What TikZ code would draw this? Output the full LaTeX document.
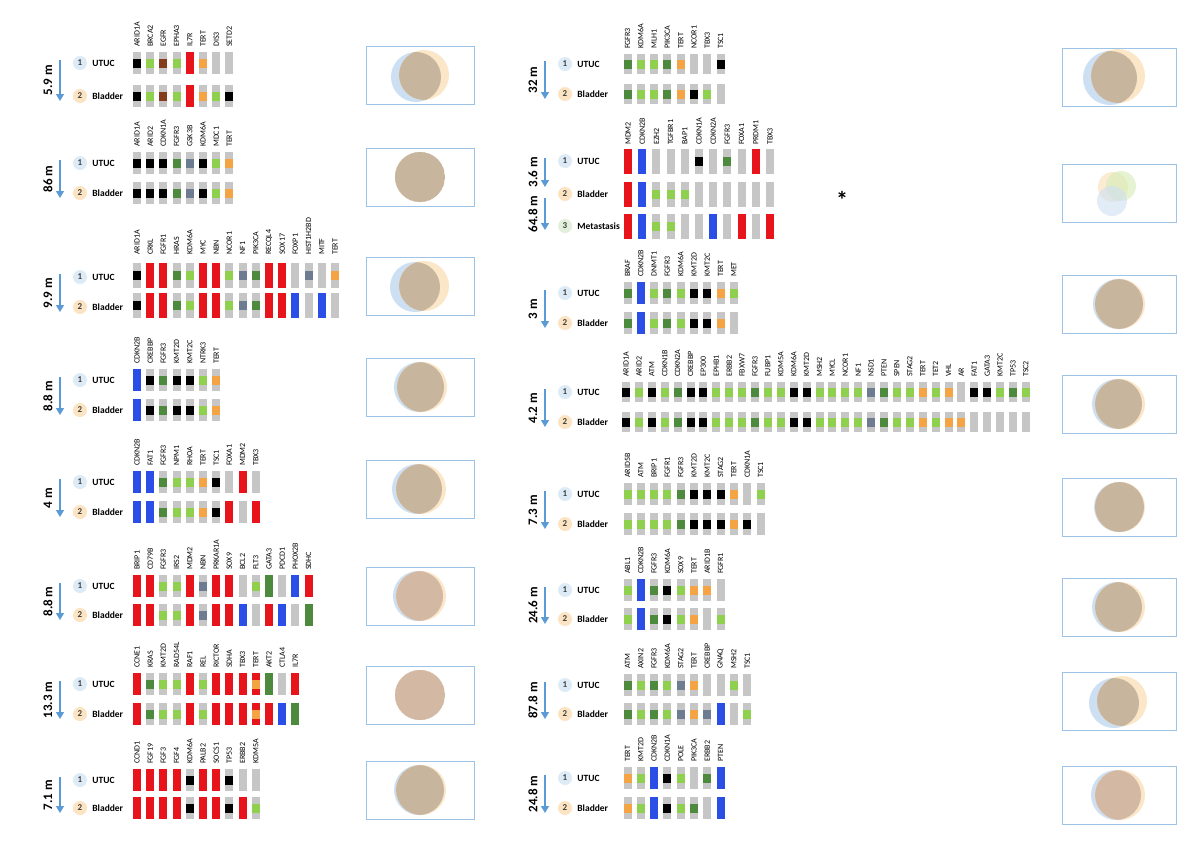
\documentclass[tikz,border=0pt]{standalone}
\usepackage{fontspec}
\setmainfont{Carlito}
\usetikzlibrary{arrows.meta,positioning}

\definecolor{mutblack}{HTML}{000000}
\definecolor{mutgreen}{HTML}{8FD14F}
\definecolor{mutdark}{HTML}{4E8A3E}
\definecolor{mutbrown}{HTML}{843C1C}
\definecolor{mutorange}{HTML}{F5A445}
\definecolor{mutslate}{HTML}{6E7C92}
\definecolor{mutred}{HTML}{E8141C}
\definecolor{mutblue}{HTML}{2B4EE6}
\definecolor{barbg}{HTML}{C6C6C6}
\definecolor{arrowblue}{HTML}{5B9BD5}
\definecolor{badgeblue}{HTML}{DDEBF7}
\definecolor{badgeorange}{HTML}{FCE4C2}
\definecolor{badgegreen}{HTML}{E2EFDA}
\definecolor{boxblue}{HTML}{9DC3E6}
\definecolor{vennblue}{HTML}{CDE0F3}
\definecolor{vennyellow}{HTML}{FBE7C8}
\definecolor{venngreen}{HTML}{D4ECB4}
\definecolor{venntan}{HTML}{C8B59D}
\definecolor{vennpink}{HTML}{D3B8A4}

\newcommand\cellh{22pt}

% time between two samples
\newcommand\interval[5]{%
  \coordinate (#1a) at (#2,#3);
  \coordinate (#1b) at (#2,#4);
  \draw[timearrow] (#1a) -- (#1b);
  \node[timelabel] (#1l) at ({#2-12},{(#3+#4)/2}) {#5};}

\newcommand\sample[6]{%
  \node[badge, fill=#5] (#1) at (#2,#3) {#4};
  \node[sample, right=5pt of #1] (#1t) {#6};}

\newcommand\genelabels[5]{%
  \foreach \g [count=\i] in {#5}
    \node[gene] (#1l\i) at ({#2+(\i-1)*#4},#3) {\g};}

\newcommand\generow[5]{%
  \foreach \c [count=\i] in {#5} {
    \node[bar] (#1c\i) at ({#2+(\i-1)*#4},#3) {};
    \node[mut\c] (#1m\i) at (#1c\i) {};
  }}

\newcommand\venn[8]{%
  \node[#8] (#1) at (#2,#3) {};
  \fill[vennblue] ([shift={(#5)}]#1.center) circle[radius=#4];
  \fill[vennyellow] ([shift={(#6)}]#1.center) circle[radius=#4];
  \begin{scope}
    \clip ([shift={(#5)}]#1.center) circle[radius=#4];
    \fill[#7] ([shift={(#6)}]#1.center) circle[radius=#4];
  \end{scope}}

\begin{document}
\begin{tikzpicture}[x=1pt, y=-1pt,
    timearrow/.style={draw=arrowblue, line width=1.3pt, -{Triangle[length=7pt,width=8pt]}},
    timelabel/.style={rotate=90, inner sep=0pt, font=\bfseries\fontsize{13}{13}\selectfont},
    badge/.style={circle, minimum size=14pt, inner sep=0pt, text=black!75,
                  font=\bfseries\fontsize{9}{9}\selectfont},
    sample/.style={inner sep=0pt, font=\bfseries\fontsize{9.5}{10}\selectfont},
    gene/.style={rotate=90, anchor=west, inner sep=0pt, font=\fontsize{8}{8}\selectfont},
    bar/.style={fill=barbg, minimum width=8pt, minimum height=\cellh, inner sep=0pt, outer sep=0pt},
    sq/.style={fill=#1, minimum width=8pt, minimum height=9pt, inner sep=0pt, outer sep=0pt},
    full/.style={fill=#1, minimum width=8pt, minimum height=\cellh, inner sep=0pt, outer sep=0pt},
    mutk/.style={sq=mutblack}, mutg/.style={sq=mutgreen}, mutd/.style={sq=mutdark},
    mutn/.style={sq=mutbrown}, muto/.style={sq=mutorange}, muts/.style={sq=mutslate},
    mutR/.style={full=mutred}, mutB/.style={full=mutblue}, mutD/.style={full=mutdark},
    mutT/.style={full=mutred, path picture={\fill[mutorange]
        ([yshift=-4.5pt]path picture bounding box.west) rectangle
        ([yshift=4.5pt]path picture bounding box.east);}},
    mute/.style={inner sep=0pt, outer sep=0pt},
    vennbox/.style={draw=boxblue, line width=0.6pt, minimum width=108pt, minimum height=58pt, inner sep=0pt},
    vennboxr/.style={vennbox, minimum width=114pt}]
  \useasboundingbox[fill=white] (0,0) rectangle (1200,844);

  % left column
  \interval{t1}{60}{60}{101}{5.9 m}
  \sample{s1a}{80}{63}{1}{badgeblue}{UTUC}
  \sample{s1b}{80}{96}{2}{badgeorange}{Bladder}
  \genelabels{g1}{137}{47}{13.2}{ARID1A,BRCA2,EGFR,EPHA3,IL7R,TERT,DIS3,SETD2}
  \generow{r1a}{137}{63}{13.2}{k,g,n,g,R,o,e,e}
  \generow{r1b}{137}{96}{13.2}{k,g,n,g,R,o,g,k}
  \venn{v1}{420}{75}{25}{-4,2}{4,0}{venntan}{vennbox}

  \interval{t2}{60}{160}{198}{86 m}
  \sample{s2a}{80}{163}{1}{badgeblue}{UTUC}
  \sample{s2b}{80}{193}{2}{badgeorange}{Bladder}
  \genelabels{g2}{137}{147}{13.2}{ARID1A,ARID2,CDKN1A,FGFR3,GSK3B,KDM6A,MDC1,TERT}
  \generow{r2a}{137}{163}{13.2}{k,k,k,d,s,k,g,o}
  \generow{r2b}{137}{193}{13.2}{k,k,k,d,s,k,g,o}
  \venn{v2}{420}{177}{25}{0,0}{0,0}{venntan}{vennbox}

  \begin{scope}
  \renewcommand\cellh{25pt}
  \interval{t3}{60}{274}{312}{9.9 m}
  \sample{s3a}{80}{277}{1}{badgeblue}{UTUC}
  \sample{s3b}{80}{307}{2}{badgeorange}{Bladder}
  \genelabels{g3}{137}{255}{13.2}{ARID1A,CRKL,FGFR1,HRAS,KDM6A,MYC,NBN,NCOR1,NF1,PIK3CA,RECQL4,SOX17,FOXP1,HIST1H2BD,MITF,TERT}
  \generow{r3a}{137}{275}{13.2}{k,R,R,d,g,R,R,g,s,d,R,R,e,s,e,o}
  \generow{r3b}{137}{305}{13.2}{k,R,R,d,g,R,R,g,s,d,R,R,B,e,B,e}
  \end{scope}
  \venn{v3}{420}{286}{25}{-5,1}{4,0}{venntan}{vennbox}

  \interval{t4}{60}{377}{415}{8.8 m}
  \sample{s4a}{80}{380}{1}{badgeblue}{UTUC}
  \sample{s4b}{80}{410}{2}{badgeorange}{Bladder}
  \genelabels{g4}{137}{364}{13.2}{CDKN2B,CREBBP,FGFR3,KMT2D,KMT2C,NTRK3,TERT}
  \generow{r4a}{137}{380}{13.2}{B,k,d,k,k,g,o}
  \generow{r4b}{137}{410}{13.2}{B,k,d,k,k,g,o}
  \venn{v4}{420}{387}{25}{-1,0}{2,0}{venntan}{vennbox}

  \interval{t5}{60}{479}{517}{4 m}
  \sample{s5a}{80}{482}{1}{badgeblue}{UTUC}
  \sample{s5b}{80}{512}{2}{badgeorange}{Bladder}
  \genelabels{g5}{137}{466}{13.2}{CDKN2B,FAT1,FGFR3,NPM1,RHOA,TERT,TSC1,FOXA1,MDM2,TBX3}
  \generow{r5a}{137}{482}{13.2}{B,B,d,g,g,o,k,e,R,e}
  \generow{r5b}{137}{512}{13.2}{B,B,d,g,g,o,k,R,e,R}
  \venn{v5}{420}{489}{25}{-3,0}{1,0}{venntan}{vennbox}

  \interval{t6}{60}{583}{620}{8.8 m}
  \sample{s6a}{80}{586}{1}{badgeblue}{UTUC}
  \sample{s6b}{80}{615}{2}{badgeorange}{Bladder}
  \genelabels{g6}{137}{570}{13.2}{BRIP1,CD79B,FGFR3,IRS2,MDM2,NBN,PRKAR1A,SOX9,BCL2,FLT3,GATA3,PDCD1,PHOX2B,SDHC}
  \generow{r6a}{137}{586}{13.2}{R,R,g,g,R,s,R,R,e,g,D,e,B,R}
  \generow{r6b}{137}{615}{13.2}{R,R,g,g,R,s,R,R,B,e,R,B,e,D}
  \venn{v6}{420}{596}{25}{-2,0}{1,0}{vennpink}{vennbox}

  \interval{t7}{60}{681}{719}{13.3 m}
  \sample{s7a}{80}{684}{1}{badgeblue}{UTUC}
  \sample{s7b}{80}{714}{2}{badgeorange}{Bladder}
  \genelabels{g7}{137}{668}{13.2}{CCNE1,KRAS,KMT2D,RAD54L,RAF1,REL,RICTOR,SDHA,TBX3,TERT,AKT2,CTLA4,IL7R}
  \generow{r7a}{137}{684}{13.2}{R,d,g,g,R,g,R,R,R,T,D,e,R}
  \generow{r7b}{137}{714}{13.2}{R,d,g,g,R,g,R,R,R,T,R,B,D}
  \venn{v7}{420}{695}{25}{0,0}{0,0}{vennpink}{vennbox}

  \interval{t8}{60}{777}{813}{7.1 m}
  \sample{s8a}{80}{780}{1}{badgeblue}{UTUC}
  \sample{s8b}{80}{808}{2}{badgeorange}{Bladder}
  \genelabels{g8}{137}{764}{13.2}{CCND1,FGF19,FGF3,FGF4,KDM6A,PALB2,SOCS1,TP53,ERBB2,KDM5A}
  \generow{r8a}{137}{780}{13.2}{R,R,R,R,k,R,R,k,e,e}
  \generow{r8b}{137}{808}{13.2}{R,R,R,R,k,R,R,k,R,g}
  \venn{v8}{420}{790}{25}{-1,0}{1,0}{venntan}{vennbox}

  % right column
  \begin{scope}
  \renewcommand\cellh{20pt}
  \interval{t9}{545}{61}{99}{32 m}
  \sample{s9a}{565}{64}{1}{badgeblue}{UTUC}
  \sample{s9b}{565}{94}{2}{badgeorange}{Bladder}
  \genelabels{g9}{627.5}{49}{13.3}{FGFR3,KDM6A,MLH1,PIK3CA,TERT,NCOR1,TBX3,TSC1}
  \generow{r9a}{627.5}{64}{13.3}{d,g,g,d,o,e,e,k}
  \generow{r9b}{627.5}{94}{13.3}{d,g,g,d,o,k,g,e}
  \end{scope}
  \venn{v9}{1119}{77}{27}{-9,1}{-1,-1}{venntan}{vennboxr}

  \begin{scope}
  \renewcommand\cellh{25pt}
  \interval{t10}{545}{158}{187}{3.6 m}
  \interval{t11}{545}{198}{230}{64.8 m}
  \sample{s10a}{565}{161}{1}{badgeblue}{UTUC}
  \sample{s10b}{565}{194}{2}{badgeorange}{Bladder}
  \sample{s10c}{565}{226}{3}{badgegreen}{Metastasis}
  \genelabels{g10}{628}{145}{14.2}{MDM2,CDKN2B,EZH2,TGFBR1,BAP1,CDKN1A,CDKN2A,FGFR3,FOXA1,PRDM1,TBX3}
  \generow{r10a}{628}{161}{14.2}{R,B,e,e,e,k,e,d,e,R,e}
  \generow{r10b}{628}{194}{14.2}{R,B,g,g,g,e,e,e,e,e,e}
  \generow{r10c}{628}{226}{14.2}{R,B,g,g,e,e,B,e,R,e,R}
  \end{scope}
  \node[vennboxr] (v10) at (1119,193) {};
  \fill[vennyellow, fill opacity=0.8] ([shift={(-6,-6)}]v10.center) circle[radius=15];
  \fill[venngreen, fill opacity=0.6] ([shift={(2,-7)}]v10.center) circle[radius=15];
  \fill[vennblue, fill opacity=0.6] ([shift={(-7,8)}]v10.center) circle[radius=15];
  \node[inner sep=0pt, font=\bfseries\fontsize{24}{24}\selectfont] (star) at (842,200) {*};

  \interval{t12}{545}{290}{328}{3 m}
  \sample{s12a}{565}{293}{1}{badgeblue}{UTUC}
  \sample{s12b}{565}{323}{2}{badgeorange}{Bladder}
  \genelabels{g12}{627.5}{277}{13.3}{BRAF,CDKN2B,DNMT1,FGFR3,KDM6A,KMT2D,KMT2C,TERT,MET}
  \generow{r12a}{627.5}{293}{13.3}{d,B,g,d,g,k,k,o,g}
  \generow{r12b}{627.5}{323}{13.3}{d,B,g,d,g,k,k,o,e}
  \venn{v12}{1119}{304}{25}{-1,0}{1,0}{venntan}{vennboxr}

  \begin{scope}
  \renewcommand\cellh{20pt}
  \interval{t13}{545}{389}{427}{4.2 m}
  \sample{s13a}{565}{392}{1}{badgeblue}{UTUC}
  \sample{s13b}{565}{422}{2}{badgeorange}{Bladder}
  \genelabels{g13}{626}{377}{12.9}{ARID1A,ARID2,ATM,CDKN1B,CDKN2A,CREBBP,EP300,EPHB1,ERBB2,FBXW7,FGFR3,FUBP1,KDM5A,KDM6A,KMT2D,MSH2,MYCL,NCOR1,NF1,NSD1,PTEN,SPEN,STAG2,TERT,TET2,VHL,AR,FAT1,GATA3,KMT2C,TP53,TSC2}
  \generow{r13a}{626}{392}{12.9}{k,g,k,g,d,k,k,g,g,g,d,g,g,k,k,g,g,g,g,s,d,g,g,o,g,o,e,k,k,g,d,g}
  \generow{r13b}{626}{422}{12.9}{k,g,k,g,d,k,k,g,g,g,d,g,g,k,k,g,g,g,g,s,d,g,g,o,g,o,o,e,e,e,e,e}
  \end{scope}
  \venn{v13}{1119}{404}{25}{-2,0}{1,0}{venntan}{vennboxr}

  \interval{t14}{545}{491}{529}{7.3 m}
  \sample{s14a}{565}{494}{1}{badgeblue}{UTUC}
  \sample{s14b}{565}{524}{2}{badgeorange}{Bladder}
  \genelabels{g14}{627.5}{478}{13.3}{ARID5B,ATM,BRIP1,FGFR1,FGFR3,KMT2D,KMT2C,STAG2,TERT,CDKN1A,TSC1}
  \generow{r14a}{627.5}{494}{13.3}{g,g,g,g,d,k,k,k,o,e,g}
  \generow{r14b}{627.5}{524}{13.3}{g,g,g,g,d,k,k,k,o,k,e}
  \venn{v14}{1119}{507}{25}{0,0}{1,0}{venntan}{vennboxr}

  \interval{t15}{545}{587}{624}{24.6 m}
  \sample{s15a}{565}{590}{1}{badgeblue}{UTUC}
  \sample{s15b}{565}{619}{2}{badgeorange}{Bladder}
  \genelabels{g15}{627.5}{574}{13.3}{ABL1,CDKN2B,FGFR3,KDM6A,SOX9,TERT,ARID1B,FGFR1}
  \generow{r15a}{627.5}{590}{13.3}{g,B,d,k,g,o,o,e}
  \generow{r15b}{627.5}{619}{13.3}{g,B,d,k,g,o,e,g}
  \venn{v15}{1119}{607}{25}{-2,0}{1,0}{venntan}{vennboxr}

  \interval{t16}{545}{682}{719}{87.8 m}
  \sample{s16a}{565}{685}{1}{badgeblue}{UTUC}
  \sample{s16b}{565}{714}{2}{badgeorange}{Bladder}
  \genelabels{g16}{627.5}{669}{13.3}{ATM,AXIN2,FGFR3,KDM6A,STAG2,TERT,CREBBP,GNAQ,MSH2,TSC1}
  \generow{r16a}{627.5}{685}{13.3}{d,g,d,g,s,o,e,e,g,e}
  \generow{r16b}{627.5}{714}{13.3}{d,g,d,g,s,o,s,B,e,g}
  \venn{v16}{1119}{701}{25}{-5,2}{3,0}{venntan}{vennboxr}

  \interval{t17}{545}{775}{813}{24.8 m}
  \sample{s17a}{565}{778}{1}{badgeblue}{UTUC}
  \sample{s17b}{565}{808}{2}{badgeorange}{Bladder}
  \genelabels{g17}{627.5}{762}{13.3}{TERT,KMT2D,CDKN2B,CDKN1A,POLE,PIK3CA,ERBB2,PTEN}
  \generow{r17a}{627.5}{778}{13.3}{o,g,B,k,g,e,d,B}
  \generow{r17b}{627.5}{808}{13.3}{o,g,B,k,g,d,e,B}
  \venn{v17}{1119}{795}{25}{-3,0}{1,0}{vennpink}{vennboxr}
\end{tikzpicture}
\end{document}
